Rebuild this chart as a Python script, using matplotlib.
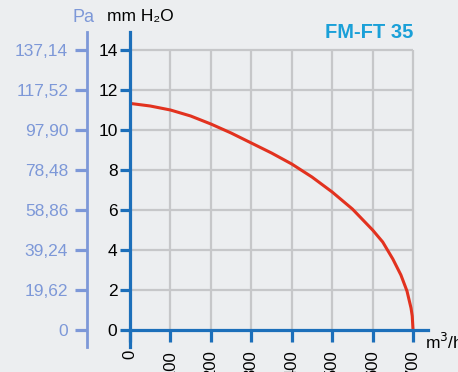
import matplotlib
matplotlib.use("Agg")
from matplotlib import pyplot as plt

plt.rcParams['font.family'] = ['Liberation Sans', 'DejaVu Sans']

# flow (m3/h) and pressure (mm H2O)
flow = [0, 50, 100, 150, 200, 250, 300, 350, 400, 450, 500, 550, 600, 625, 650, 670, 685, 695, 698, 700]
pressure = [11.33, 11.2, 11.0, 10.7, 10.3, 9.85, 9.35, 8.85, 8.3, 7.65, 6.9, 6.05, 5.0, 4.4, 3.55, 2.75, 1.95, 1.1, 0.7, 0.0]

x_ticks = [0, 100, 200, 300, 400, 500, 600, 700]
mm_ticks = [0, 2, 4, 6, 8, 10, 12, 14]
pa_labels = ['0', '19,62', '39,24', '58,86', '78,48', '97,90', '117,52', '137,14']

blue = '#1c6fba'
pa_col = '#7d98d8'
grid_col = '#c6c7c9'

fig = plt.figure(figsize=(4.58, 3.72), dpi=100)
fig.patch.set_facecolor('#eceef0')
ax = fig.add_axes([130/458, 25/372, 298/458, 315/372])
ax.set_facecolor('none')
ax.set_xlim(0, 737)
ax.set_ylim(-0.85, 14.9)

# grid only inside the data box
ax.vlines(x_ticks[1:], 0, 14, color=grid_col, lw=1.6, zorder=1)
ax.hlines(mm_ticks[1:], 0, 700, color=grid_col, lw=1.6, zorder=1)

ax.plot(flow, pressure, color='#e2321f', lw=2.2, zorder=3, solid_capstyle='butt')

for s in ['top', 'right']:
    ax.spines[s].set_visible(False)
ax.spines['bottom'].set_position(('data', 0))
ax.spines['left'].set_position(('data', 0))
for s in ['bottom', 'left']:
    ax.spines[s].set_color(blue)
    ax.spines[s].set_linewidth(2.3)
    ax.spines[s].set_zorder(4)

ax.set_xticks(x_ticks)
ax.set_xticklabels([str(v) for v in x_ticks], rotation=90, va='top')
ax.set_yticks(mm_ticks)
ax.tick_params(axis='x', direction='out', length=8.5, width=2.3, color=blue,
               labelsize=12, pad=6)
ax.tick_params(axis='y', direction='out', length=7, width=2.3, color=blue,
               labelsize=12.5, pad=2)

# Pa scale on a second left axis
ax2 = ax.twinx()
ax2.set_ylim(ax.get_ylim())
ax2.yaxis.tick_left()
ax2.yaxis.set_label_position('left')
for s in ['top', 'right', 'bottom']:
    ax2.spines[s].set_visible(False)
ax2.spines['left'].set_visible(True)
ax2.spines['left'].set_position(('outward', 31))
ax2.spines['left'].set_color(pa_col)
ax2.spines['left'].set_linewidth(2)
ax2.set_yticks(mm_ticks)
ax2.set_yticklabels(pa_labels)
ax2.tick_params(axis='y', direction='out', length=8.5, width=2.3, color=pa_col,
                labelcolor=pa_col, labelsize=12.5, pad=5)

fig.text(84/458, 1 - 17/372, 'Pa', color=pa_col, fontsize=13, ha='center', va='center')
fig.text(107/458, 1 - 17/372, 'mm H\u2082O', color='black', fontsize=12.5, ha='left', va='center')
fig.text(413/458, 1 - 32/372, 'FM-FT 35', color='#1aa0d8', fontsize=14.5,
         fontweight='bold', ha='right', va='center')
fig.text(425/458, 1 - 342/372, 'm$^3$/h', color='black', fontsize=12.5, ha='left', va='center')

fig.savefig('out.png', dpi=100, facecolor=fig.get_facecolor())
